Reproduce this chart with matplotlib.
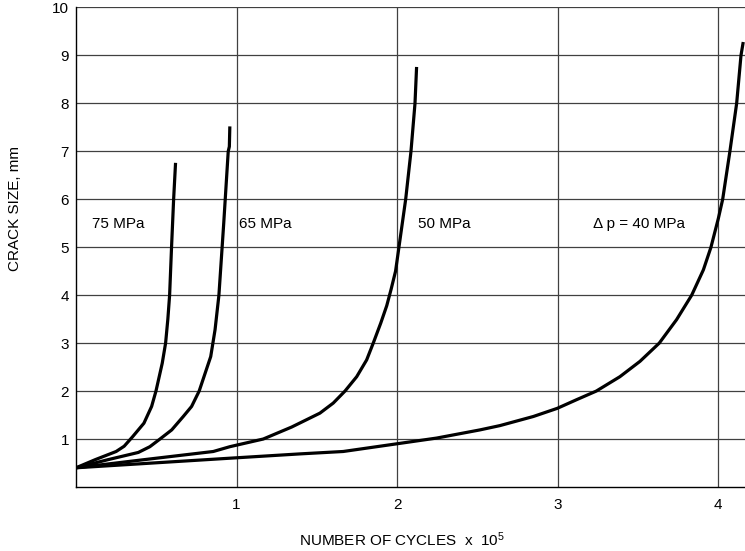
import matplotlib
matplotlib.use("Agg")
import matplotlib.pyplot as plt

plt.rcParams['font.family'] = ['Liberation Sans', 'DejaVu Sans']
plt.rcParams['mathtext.default'] = 'regular'

# crack growth curves (x in 1e5 cycles, y in mm)
c75_x = [0, 0.12, 0.25, 0.30, 0.353, 0.423, 0.471, 0.498, 0.537, 0.558, 0.572, 0.583, 0.595, 0.608, 0.62]
c75_y = [0.4, 0.57, 0.74, 0.85, 1.05, 1.33, 1.68, 2.0, 2.58, 3.0, 3.5, 4.0, 5.0, 6.0, 6.76]

c65_x = [0, 0.20, 0.388, 0.46, 0.523, 0.596, 0.668, 0.72, 0.767, 0.797, 0.839, 0.866, 0.89, 0.92, 0.948, 0.955, 0.958]
c65_y = [0.4, 0.57, 0.72, 0.84, 1.0, 1.19, 1.47, 1.68, 2.0, 2.30, 2.72, 3.28, 4.0, 5.5, 7.0, 7.1, 7.52]

c50_x = [0, 0.45, 0.855, 0.958, 1.166, 1.343, 1.519, 1.602, 1.675, 1.748, 1.810, 1.851,
         1.898, 1.935, 1.962, 1.99, 2.011, 2.053, 2.086, 2.111, 2.121]
c50_y = [0.4, 0.58, 0.74, 0.84, 1.0, 1.25, 1.54, 1.75, 2.0, 2.30, 2.65, 3.0,
         3.42, 3.78, 4.12, 4.5, 5.0, 6.0, 7.0, 8.0, 8.76]

c40_x = [0, 0.958, 1.395, 1.664, 1.997, 2.246, 2.515, 2.640, 2.848, 2.997, 3.117, 3.24, 3.387,
         3.512, 3.632, 3.740, 3.834, 3.907, 3.954, 4.0, 4.027, 4.072, 4.114, 4.141, 4.155]
c40_y = [0.4, 0.60, 0.69, 0.74, 0.90, 1.02, 1.19, 1.28, 1.47, 1.64, 1.82, 2.0, 2.30,
         2.62, 3.0, 3.49, 4.0, 4.53, 5.0, 5.6, 6.0, 7.0, 8.0, 9.0, 9.28]

curve_labels = ["75 MPa", "65 MPa", "50 MPa", "\u0394 p = 40 MPa"]
label_x = [0.10, 1.017, 2.13, 3.22]
label_y = 5.49

x_ticks = [1, 2, 3, 4]
y_ticks = [1, 2, 3, 4, 5, 6, 7, 8, 9, 10]

fig = plt.figure(figsize=(7.45, 5.51), dpi=100)
ax = fig.add_axes([0.102, 0.1162, 0.898, 0.8702])

for xs, ys in [(c75_x, c75_y), (c65_x, c65_y), (c50_x, c50_y), (c40_x, c40_y)]:
    ax.plot(xs, ys, color='black', lw=2.3, solid_joinstyle='round', solid_capstyle='butt', zorder=3)

for txt, lx in zip(curve_labels, label_x):
    ax.text(lx, label_y, txt, fontsize=11, va='center', ha='left')

ax.set_xlim(0, 4.166)
ax.set_ylim(0, 10)
ax.set_xticks(x_ticks)
ax.set_yticks(y_ticks)
ax.tick_params(length=0, labelsize=11)
ax.tick_params(axis='x', pad=8)
ax.tick_params(axis='y', pad=5)
ax.grid(True, color='0.25', lw=0.9)
ax.spines['right'].set_visible(False)
ax.spines['top'].set_visible(False)
for s in ['left', 'bottom']:
    ax.spines[s].set_linewidth(1.0)
    ax.spines[s].set_color('black')

fig.text(0.539, 0.020, "NUMBER OF CYCLES  x  10$^{5}$", ha='center', va='center', fontsize=11)
fig.text(0.020, 0.621, "CRACK SIZE, mm", rotation=90, ha='center', va='center', fontsize=11)

fig.savefig("out.png", dpi=100)
